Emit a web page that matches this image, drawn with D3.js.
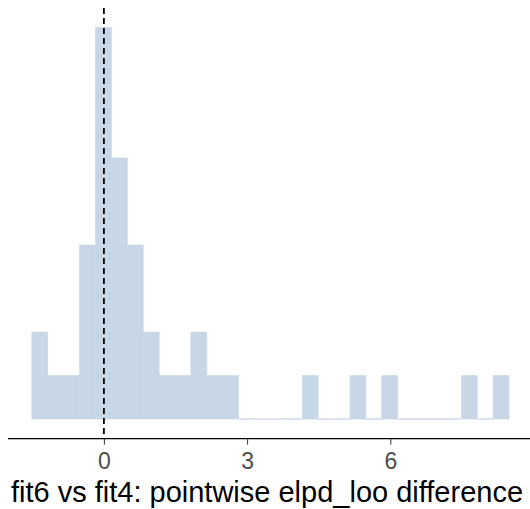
<!DOCTYPE html>
<html><head><meta charset="utf-8">
<script src="https://cdn.jsdelivr.net/npm/d3@7"></script>
<style>body{margin:0;background:#fff}svg{display:block}</style>
</head><body>
<script>
// Histogram data (30 bins)
const binStart = -1.509;
const binWidth = 0.3332;
const counts = [2,1,1,4,9,6,4,2,1,1,2,1,1,0,0,0,0,1,0,0,1,0,1,0,0,0,0,1,0,1];
const xTicks = [0, 3, 6];
const refLine = 0;
const xLabel = "fit6 vs fit4: pointwise elpd_loo difference";

const W = 530, H = 509;
const bins = counts.map((c, i) => ({x0: binStart + i*binWidth, x1: binStart + (i+1)*binWidth, n: c}));
const lo = bins[0].x0, hi = bins[bins.length-1].x1, pad = 0.05*(hi-lo);
const svg = d3.select("body").append("svg").attr("width", W).attr("height", H);

const x = d3.scaleLinear().domain([lo - pad, hi + pad]).range([8, 532.9]);
const ymax = d3.max(counts);
const y = d3.scaleLinear().domain([-0.05*ymax, ymax*1.05]).range([438.6, 7.9]);

svg.append("g").selectAll("rect").data(bins.filter(d => d.n > 0)).join("rect")
  .attr("x", d => x(d.x0)).attr("width", d => x(d.x1) - x(d.x0))
  .attr("y", d => y(d.n)).attr("height", d => y(0) - y(d.n))
  .attr("fill", "#c7d7e6").attr("stroke", "#c7d7e6").attr("stroke-width", 0.6);
// zero-count bins show as a thin outline on the baseline
svg.append("g").selectAll("line").data(bins.filter(d => d.n === 0)).join("line")
  .attr("x1", d => x(d.x0)).attr("x2", d => x(d.x1))
  .attr("y1", y(0)).attr("y2", y(0))
  .attr("stroke", "#b8cadb").attr("stroke-width", 1);

svg.append("line")
  .attr("x1", x(refLine)).attr("x2", x(refLine))
  .attr("y1", y.range()[1]).attr("y2", y.range()[0])
  .attr("stroke", "#000").attr("stroke-width", 1.8).attr("stroke-dasharray", "6,4");

const axis = d3.axisBottom(x).tickValues(xTicks).tickSize(6).tickPadding(8).tickFormat(d3.format("d"));
const g = svg.append("g").attr("transform", `translate(0,${y.range()[0]})`).call(axis);
g.select(".domain").attr("stroke", "#000").attr("stroke-width", 1.4).attr("d", `M${x.range()[0]},0H${x.range()[1]}`);
g.selectAll(".tick line").attr("stroke", "#333").attr("stroke-width", 1);
g.selectAll(".tick text").attr("fill", "#4d4d4d").attr("font-family", "Liberation Sans, Arial, sans-serif").attr("font-size", 23);

svg.append("text").attr("x", 267).attr("y", 502).attr("text-anchor", "middle")
  .attr("font-family", "Liberation Sans, Arial, sans-serif").attr("font-size", 29).attr("fill", "#000")
  .text(xLabel);
</script>
</body></html>
